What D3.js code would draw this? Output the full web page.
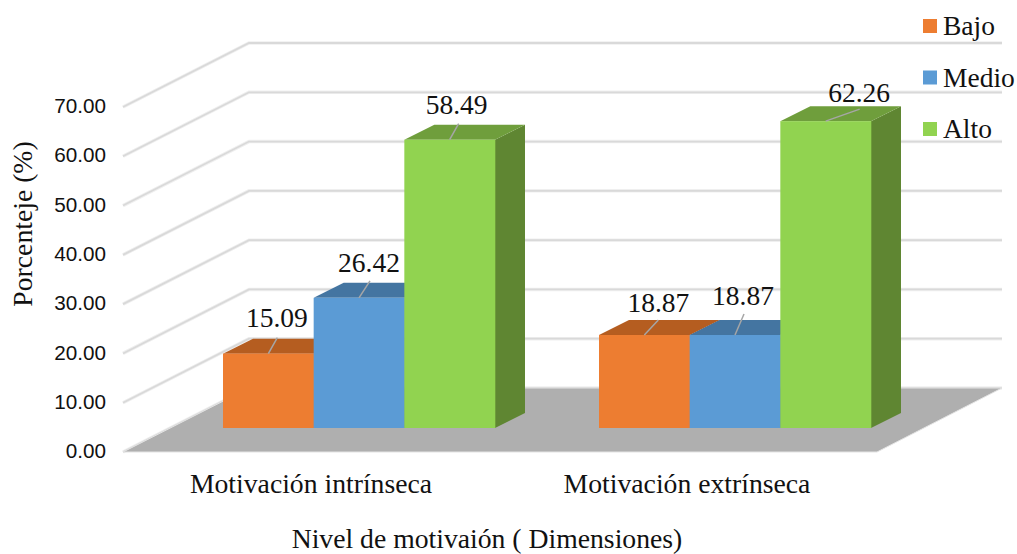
<!DOCTYPE html>
<html><head><meta charset="utf-8">
<script src="https://cdn.jsdelivr.net/npm/d3@7/dist/d3.min.js"></script>
<style>html,body{margin:0;background:#fff}svg{display:block}</style></head>
<body><svg id="c" width="1017" height="554"></svg>
<script>
const categories = ["Motivación intrínseca", "Motivación extrínseca"];
const seriesNames = ["Bajo", "Medio", "Alto"];
const bajo = [15.09, 18.87];
const medio = [26.42, 18.87];
const alto = [58.49, 62.26];
const yTicks = [0, 10, 20, 30, 40, 50, 60, 70];

const frontColors = ["#ed7d31", "#5b9bd5", "#91d350"];
const topColors = ["#b55d20", "#4475a1", "#6f9e3c"];
const sideColors = ["#a05520", "#3d6a94", "#5f8632"];

// layout
const floorY = 452, plotLeft = 123, plotRight = 877;
const wallDX = 126, wallDY = 64;
const barShiftX = 48, barShiftY = 24, depthX = 30, depthY = 15;
// leader ends and label centres relative to each bar's top-front centre, [cat][series]
const leaderEnd = [[[9,-16],[11,-17],[9,-16]],[[14,-15],[9,-21],[34,-12]]];
const labelAt = [[[8.5,-36],[10,-35],[7,-35]],[[14,-33],[8,-40],[33.5,-29]]];

const svg = d3.select("#c");
const h = d3.scaleLinear().domain([0, 70]).range([0, 345]);
const x0 = d3.scaleBand().domain(categories).range([plotLeft, plotRight - 2]).paddingInner(0.2766).paddingOuter(0.1383);
const x1 = d3.scaleBand().domain(seriesNames).range([0, x0.bandwidth()]);
const poly = pts => pts.map(p => p.join(",")).join(" ");

// walls
const gridPts = d => {
  const y = floorY - h(d);
  return poly([[plotLeft, y], [plotLeft + wallDX, y - wallDY], [plotRight + wallDX - 1, y - wallDY]]);
};
const grid = svg.append("g").attr("fill", "none");
grid.selectAll(".halo").data(yTicks).join("polyline").attr("class", "halo")
  .attr("stroke", "#efefef").attr("stroke-width", 3.5).attr("points", gridPts);
grid.selectAll(".core").data(yTicks).join("polyline").attr("class", "core")
  .attr("stroke", "#d9d9d9").attr("stroke-width", 1.8).attr("points", gridPts);

// floor
svg.append("polygon").attr("fill", "#afafaf").attr("stroke", "#e4e4e4").attr("stroke-width", 1)
  .attr("points", poly([[plotLeft, floorY], [plotLeft + wallDX, floorY - wallDY], [plotRight + wallDX - 1, floorY - wallDY], [plotRight, floorY]]));

// axis labels
const sans = "'Liberation Sans', Arial, sans-serif", serif = "'Liberation Serif', 'Times New Roman', serif";
const yAxis = d3.axisLeft(d3.scaleLinear().domain([0, 70]).range([floorY, floorY - h(70)]))
  .tickValues(yTicks).tickFormat(d3.format(".2f")).tickSize(0).tickPadding(0);
const ya = svg.append("g").attr("transform", "translate(106,-1)").call(yAxis);
ya.select(".domain").remove();
ya.selectAll("text").attr("font-family", sans).attr("font-size", 20.7).attr("fill", "#111");

const xAxis = d3.axisBottom(d3.scaleBand().domain(categories).range([plotLeft, plotRight - 2]))
  .tickSize(0).tickPadding(0);
const xa = svg.append("g").attr("transform", "translate(0,473)").call(xAxis);
xa.select(".domain").remove();
xa.selectAll("text").attr("font-family", serif).attr("font-size", 27.7).attr("fill", "#111");

svg.append("text").attr("x", 487).attr("y", 548).attr("text-anchor", "middle")
  .attr("font-family", serif).attr("font-size", 27.7).attr("fill", "#111").text("Nivel de motivaión ( Dimensiones)");
svg.append("text").attr("transform", "translate(32,224) rotate(-90)").attr("text-anchor", "middle")
  .attr("font-family", serif).attr("font-size", 27.7).attr("fill", "#111").text("Porcenteje (%)");

// bars
const values = [bajo, medio, alto];
const rows = [];
categories.forEach((c, ci) => seriesNames.forEach((s, si) => rows.push({c, ci, s, si, v: values[si][ci]})));
const baseY = floorY - barShiftY;
const bx = d => x0(d.c) + barShiftX + x1(d.s);
const bw = x1.bandwidth();
const bars = svg.append("g").selectAll("g").data(rows).join("g");
bars.append("polygon").attr("fill", d => sideColors[d.si]).attr("points", d => {
  const r = bx(d) + bw, t = baseY - h(d.v);
  return poly([[r, baseY], [r + depthX, baseY - depthY], [r + depthX, t - depthY], [r, t]]);
});
bars.append("polygon").attr("fill", d => topColors[d.si]).attr("points", d => {
  const l = bx(d), t = baseY - h(d.v);
  return poly([[l, t], [l + depthX, t - depthY], [l + bw + depthX, t - depthY], [l + bw, t]]);
});
bars.append("rect").attr("fill", d => frontColors[d.si])
  .attr("x", bx).attr("width", bw + 0.3).attr("y", d => baseY - h(d.v)).attr("height", d => h(d.v));

// leaders
svg.append("g").selectAll("line").data(rows).join("line")
  .attr("stroke", "#a6a6a6").attr("stroke-width", 1.5)
  .attr("x1", d => bx(d) + bw / 2).attr("y1", d => baseY - h(d.v))
  .attr("x2", d => bx(d) + bw / 2 + leaderEnd[d.ci][d.si][0])
  .attr("y2", d => baseY - h(d.v) + leaderEnd[d.ci][d.si][1]);

// data labels
svg.append("g").selectAll("text").data(rows).join("text")
  .attr("transform", d => `translate(${bx(d) + bw / 2 + labelAt[d.ci][d.si][0]},${baseY - h(d.v) + labelAt[d.ci][d.si][1]})`)
  .attr("text-anchor", "middle").attr("dy", "0.35em")
  .attr("font-family", serif).attr("font-size", 27.5).attr("fill", "#111").text(d => d.v.toFixed(2));

// legend
const ly = d3.scalePoint().domain(seriesNames).range([26, 129]);
const lg = svg.append("g").selectAll("g").data(seriesNames).join("g")
  .attr("transform", d => `translate(923,${ly(d)})`);
lg.append("rect").attr("x", 0).attr("y", -7).attr("width", 14).attr("height", 14).attr("fill", (d, i) => frontColors[i]);
lg.append("text").attr("x", 20).attr("dy", "0.34em").attr("font-family", serif).attr("font-size", 27.5).attr("fill", "#111").text(d => d);
</script></body></html>
